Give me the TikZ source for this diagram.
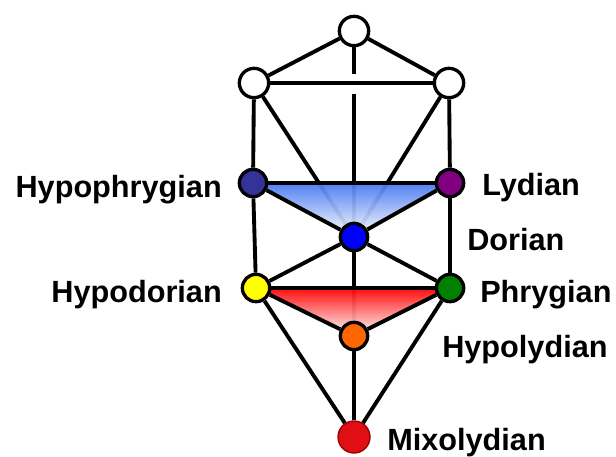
\documentclass[tikz,border=0pt]{standalone}
\usepackage{fontspec}
\setmainfont{Liberation Sans}
\usetikzlibrary{positioning}
\pgfdeclarelayer{back}
\pgfsetlayers{back,main}
\definecolor{cHypophrygian}{RGB}{51,51,153}
\definecolor{cLydian}{RGB}{128,0,128}
\definecolor{cDorian}{RGB}{0,0,255}
\definecolor{cHypodorian}{RGB}{255,255,0}
\definecolor{cPhrygian}{RGB}{0,128,0}
\definecolor{cHypolydian}{RGB}{255,102,0}
\definecolor{cMixolydian}{RGB}{225,15,20}
\definecolor{cMixoRim}{RGB}{150,0,0}
\definecolor{triBlue}{RGB}{70,120,240}
\definecolor{triRed}{RGB}{255,0,0}

\begin{document}
\begin{tikzpicture}[
  x=0.75pt, y=-0.75pt,
  edge/.style={line width=2.9pt, black},
  sefira/.style={circle, draw=black, line width=2.5pt, minimum size=20.5pt, inner sep=0pt},
  blank/.style={sefira, fill=white, minimum size=22pt},
  modename/.style={font=\fontsize{23}{26}\selectfont\bfseries, inner sep=0pt}
]
\useasboundingbox (0,0) rectangle (616,456);
\node[blank] (top) at (354,31) {};
\node[blank] (upleft) at (254,83) {};
\node[blank] (upright) at (449,83) {};
\node[sefira, fill=cHypophrygian] (hypophrygian) at (253,183) {};
\node[sefira, fill=cLydian] (lydian) at (450,183) {};
\node[sefira, fill=cDorian] (dorian) at (354,237) {};
\node[sefira, fill=cHypodorian] (hypodorian) at (256,288) {};
\node[sefira, fill=cPhrygian] (phrygian) at (450,288) {};
\node[sefira, fill=cHypolydian] (hypolydian) at (354,336) {};
\node[sefira, fill=cMixolydian, draw=cMixoRim, line width=1pt, minimum size=24pt] (mixolydian) at (354,437) {};
\coordinate (gapA) at (354,74);
\coordinate (gapB) at (354,94);

\node[modename, anchor=base east] (tHypophrygian) at (222,197) {Hypophrygian};
\node[modename, anchor=base west] (tLydian) at (482,195) {Lydian};
\node[modename, anchor=base west] (tDorian) at (467,250) {Dorian};
\node[modename, anchor=base east] (tHypodorian) at (222,302) {Hypodorian};
\node[modename, anchor=base west] (tPhrygian) at (480,302) {Phrygian};
\node[modename, anchor=base west] (tHypolydian) at (442,357) {Hypolydian};
\node[modename, anchor=base west] (tMixolydian) at (387,450) {Mixolydian};

\begin{pgfonlayer}{back}
\draw[edge] (upleft) -- (dorian);
\draw[edge] (upright) -- (dorian);
\draw[edge] (gapB) -- (dorian);
\draw[edge] (dorian) -- (hypolydian);
\shade[top color=triBlue, middle color=triBlue!90, bottom color=white, opacity=0.94]
  (hypophrygian.center) -- (lydian.center) -- (dorian.center) -- cycle;
\shade[top color=triRed, middle color=triRed!95, bottom color=white, opacity=0.95]
  (hypodorian.center) -- (phrygian.center) -- (hypolydian.center) -- cycle;
\end{pgfonlayer}

\draw[edge] (top) -- (upleft);
\draw[edge] (top) -- (upright);
\draw[edge] (top) -- (gapA);
\draw[edge] (upleft) -- (upright);
\draw[edge] (upleft) -- (hypophrygian);
\draw[edge] (upright) -- (lydian);
\draw[edge] (hypophrygian) -- (lydian);
\draw[edge] (hypophrygian) -- (dorian);
\draw[edge] (lydian) -- (dorian);
\draw[edge] (hypophrygian) -- (hypodorian);
\draw[edge] (lydian) -- (phrygian);
\draw[edge] (dorian) -- (hypodorian);
\draw[edge] (dorian) -- (phrygian);
\draw[edge] (hypodorian) -- (phrygian);
\draw[edge] (hypodorian) -- (hypolydian);
\draw[edge] (phrygian) -- (hypolydian);
\draw[edge] (hypodorian) -- (mixolydian);
\draw[edge] (phrygian) -- (mixolydian);
\draw[edge] (hypolydian) -- (mixolydian);
\end{tikzpicture}
\end{document}
